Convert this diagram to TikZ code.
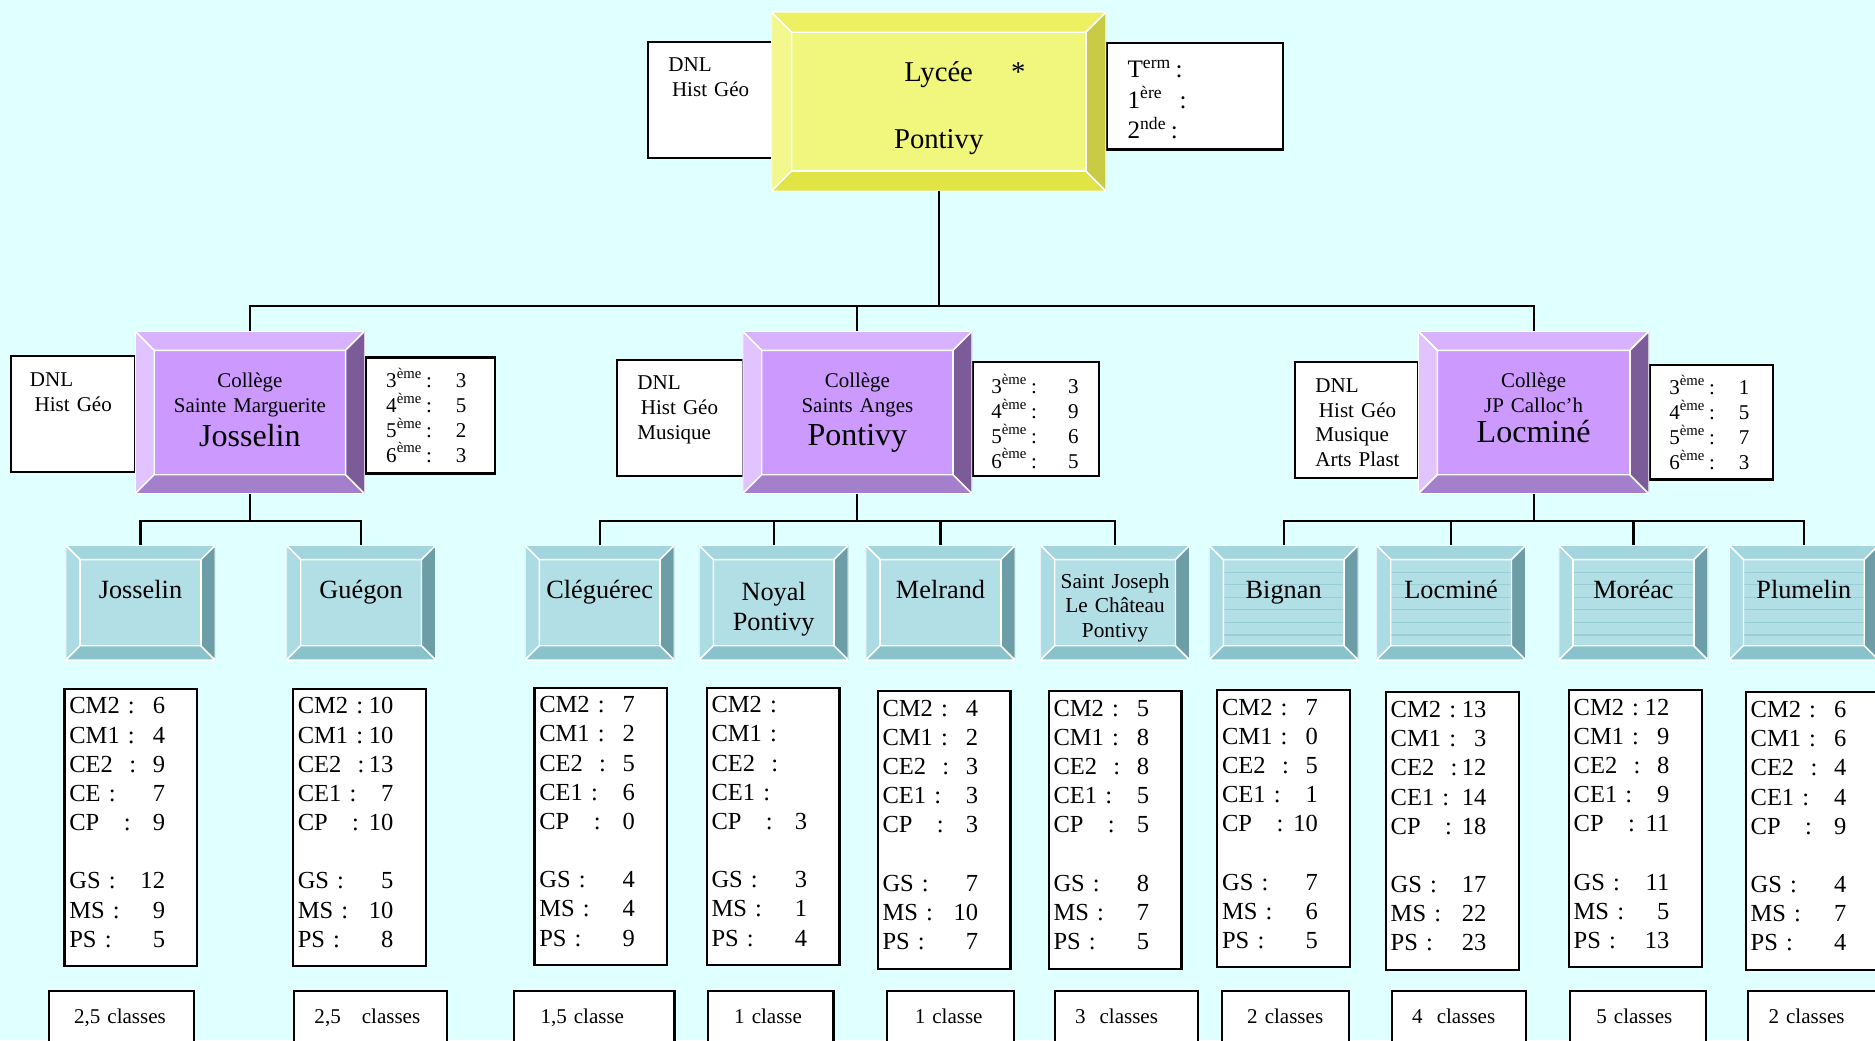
\documentclass[tikz,border=0pt]{standalone}
\usepackage{fontspec}
\setmainfont{Liberation Serif}
\usetikzlibrary{calc}
\definecolor{bgc}{HTML}{E0FFFF}
\definecolor{lyF}{HTML}{F0F77C}
\definecolor{lyT}{HTML}{EDF061}
\definecolor{lyL}{HTML}{F4F68E}
\definecolor{lyB}{HTML}{E0E445}
\definecolor{lyR}{HTML}{C9CB45}
\definecolor{coF}{HTML}{CC99FF}
\definecolor{coT}{HTML}{D8B1FF}
\definecolor{coL}{HTML}{E1C4FF}
\definecolor{coB}{HTML}{A47FCC}
\definecolor{coR}{HTML}{7B5C99}
\definecolor{scF}{HTML}{B2DFE6}
\definecolor{scT}{HTML}{A3D5DE}
\definecolor{scL}{HTML}{ABDBE3}
\definecolor{scB}{HTML}{89C2CB}
\definecolor{scR}{HTML}{6D9EA7}
\definecolor{scS}{HTML}{98CDD6}
\lineskiplimit=-100pt
\newcommand\DLn[2]{\makebox[40pt]{#1\hfill #2}}
\newcommand\RLn[3][33.5pt]{\makebox[#1]{#2\hfill #3}}
\newcommand\sx[1]{\textsuperscript{#1}}
\newcommand\fdata{\fontsize{10.25}{12.2}\selectfont}
\newcommand\fsmall{\fontsize{8.8}{10.4}\selectfont}
\newcommand\fterm{\fontsize{10.5}{12.75}\selectfont}
\newcommand\tbox[9][]{%
  \node[sidebox, minimum width={#5*0.5pt}, minimum height={#6*0.5pt}, anchor=north west] (#2) at (#3,#4) {};
  \node[boxtext, anchor=base west, #1] (#2t) at ($(#2.north west)+(#7,#8)$) {#9};}
\newcommand\databox[4]{\tbox[font=\fdata]{#1}{#2}{#3}{111}{232}{4}{21}{#4}}
\newcommand\classbox[5]{\tbox[font=\fsmall]{#1}{#2}{829}{#3}{60}{#4}{27}{#5}}
\begin{document}
\begin{tikzpicture}[x=0.5pt,y=-0.5pt,
  bevel/.style n args={7}{fill=#6, path picture={
    \path (path picture bounding box.north west) coordinate (bNW)
          (path picture bounding box.south east) coordinate (bSE);
    \path (bNW -| bSE) coordinate (bNE) (bNW |- bSE) coordinate (bSW);
    \foreach \k in {1,...,7}{\draw[#7,line width=0.5pt] ($(bNW)+(#1,#1+\k*10.5)$) -- ($(bNE)+(-#1,#1+\k*10.5)$);}
    \filldraw[fill=#2,draw=white,line width=0.6pt] (bNW) -- (bNE) -- ($(bNE)+(-#1,#1)$) -- ($(bNW)+(#1,#1)$) -- cycle;
    \filldraw[fill=#3,draw=white,line width=0.6pt] (bNW) -- ($(bNW)+(#1,#1)$) -- ($(bSW)+(#1,-#1)$) -- (bSW) -- cycle;
    \filldraw[fill=#4,draw=white,line width=0.6pt] (bSW) -- ($(bSW)+(#1,-#1)$) -- ($(bSE)+(-#1,-#1)$) -- (bSE) -- cycle;
    \filldraw[fill=#5,draw=white,line width=0.6pt] (bSE) -- ($(bSE)+(-#1,-#1)$) -- ($(bNE)+(-#1,#1)$) -- (bNE) -- cycle;
    \draw[white,line width=0.6pt] ($(bNW)+(#1,#1)$) rectangle ($(bSE)+(-#1,-#1)$);
  }},
  lycee/.style={bevel={17}{lyT}{lyL}{lyB}{lyR}{lyF}{lyF}, minimum width=140pt, minimum height=75pt,
    inner sep=0pt, outer sep=0pt, text width=130pt, align=center,
    font=\fontsize{12}{28}\selectfont, text height=14pt, text depth=30.6pt},
  college/.style={bevel={16}{coT}{coL}{coB}{coR}{coF}{coF}, minimum width=96pt, minimum height=68pt,
    inner sep=0pt, outer sep=0pt, text width=92pt, align=center,
    font=\fontsize{8.75}{10.5}\selectfont, text height=6pt, text depth=27pt},
  school/.style={bevel={12}{scT}{scL}{scB}{scR}{scF}{scF}, minimum width=62.5pt, minimum height=48pt,
    inner sep=0pt, outer sep=0pt, text width=60pt, align=center,
    font=\fontsize{11}{12.5}\selectfont, text height=0pt, text depth=3.6pt},
  striped/.style={bevel={12}{scT}{scL}{scB}{scR}{scF}{scS}},
  sidebox/.style={draw=black, fill=white, line width=0.9pt, inner sep=0pt, outer sep=0pt},
  boxtext/.style={inner sep=0pt, outer sep=0pt, align=left, text width=80pt},
  conn/.style={draw=black, line width=0.9pt}
]
\useasboundingbox (0,0) rectangle (1568,870);
\clip (0,0) rectangle (1568,870);
\fill[bgc] (0,0) rectangle (1568,870);

% side boxes of the lycee
\tbox[font=\fsmall]{dnl0}{542}{35}{105}{97}{17}{25}{DNL\\\hspace*{1.5pt}Hist Géo}
\tbox[font=\fterm]{cnt0}{926}{36}{147}{89}{17}{29}{T\sx{erm}\,:\\1\sx{ère}\ \ :\\2\sx{nde}\,:}
% side boxes of the colleges
\tbox[font=\fsmall]{dnl1}{9}{298}{104}{97}{16}{25}{DNL\\\hspace*{2pt}Hist Géo}
\tbox[font=\fsmall]{cnt1}{306}{299}{108}{97}{17}{25}{\RLn{3\sx{ème}\,:}{3}\\\RLn{4\sx{ème}\,:}{5}\\\RLn{5\sx{ème}\,:}{2}\\\RLn{6\sx{ème}\,:}{3}}
\tbox[font=\fsmall]{dnl2}{516}{301}{105}{97}{17}{25}{DNL\\\hspace*{1.5pt}Hist Géo\\Musique}
\tbox[font=\fsmall]{cnt2}{814}{303}{105}{95}{15}{26}{\RLn[36.5pt]{3\sx{ème}\,:}{3}\\\RLn[36.5pt]{4\sx{ème}\,:}{9}\\\RLn[36.5pt]{5\sx{ème}\,:}{6}\\\RLn[36.5pt]{6\sx{ème}\,:}{5}}
\tbox[font=\fsmall]{dnl3}{1083}{303}{103}{97}{17}{25}{DNL\\\hspace*{1.5pt}Hist Géo\\Musique\\Arts Plast}
\tbox[font=\fsmall]{cnt3}{1380}{305}{103}{96}{16}{25}{\RLn{3\sx{ème}\,:}{1}\\\RLn{4\sx{ème}\,:}{5}\\\RLn{5\sx{ème}\,:}{7}\\\RLn{6\sx{ème}\,:}{3}}

% bevelled boxes
\node[lycee] (lycee) at (785,85) {Lycée\rlap{\hspace{16pt}*}\\Pontivy};
\node[college] (col1) at (209,345) {Collège\\Sainte Marguerite\\[2pt]{\fontsize{13.4}{15}\selectfont Josselin}};
\node[college] (col2) at (717,345) {Collège\\Saints Anges\\[2pt]{\fontsize{13.4}{15}\selectfont Pontivy}};
\node[college, minimum width=96.5pt] (col3) at (1282.5,345) {Collège\\JP Calloc’h\\[2pt]{\fontsize{13.4}{15}\selectfont Locminé}};

\node[school] (s1) at (117.5,504) {Josselin};
\node[school] (s2) at (302,504) {Guégon};
\node[school] (s3) at (501.5,504) {Cléguérec};
\node[school, text height=11pt, text depth=12.6pt] (s4) at (647,504) {Noyal\\Pontivy};
\node[school] (s5) at (786.5,504) {Melrand};
\node[school, font=\fontsize{8.9}{10.25}\selectfont, text height=8.5pt, text depth=20.5pt] (s6) at (932.5,504) {Saint Joseph\\Le Château\\Pontivy};
\node[school, striped] (s7) at (1073.5,504) {Bignan};
\node[school, striped] (s8) at (1213.5,504) {Locminé};
\node[school, striped] (s9) at (1366,504) {Moréac};
\node[school, striped] (s10) at (1508.5,504) {Plumelin};

% pupil counts
\databox{d1}{54}{576}{\DLn{CM2 :}{6}\\\DLn{CM1 :}{4}\\\DLn{CE2\ \ :}{9}\\\DLn{CE :}{7}\\\DLn{CP\ \ \ :}{9}\\\mbox{}\\\DLn{GS :}{12}\\\DLn{MS :}{9}\\\DLn{PS :}{5}}
\databox{d2}{245}{576}{\DLn{CM2 :}{10}\\\DLn{CM1 :}{10}\\\DLn{CE2\ \ :}{13}\\\DLn{CE1 :}{7}\\\DLn{CP\ \ \ :}{10}\\\mbox{}\\\DLn{GS :}{5}\\\DLn{MS :}{10}\\\DLn{PS :}{8}}
\databox{d3}{447}{575}{\DLn{CM2 :}{7}\\\DLn{CM1 :}{2}\\\DLn{CE2\ \ :}{5}\\\DLn{CE1 :}{6}\\\DLn{CP\ \ \ :}{0}\\\mbox{}\\\DLn{GS :}{4}\\\DLn{MS :}{4}\\\DLn{PS :}{9}}
\databox{d4}{591}{575}{\DLn{CM2 :}{}\\\DLn{CM1 :}{}\\\DLn{CE2\ \ :}{}\\\DLn{CE1 :}{}\\\DLn{CP\ \ \ :}{3}\\\mbox{}\\\DLn{GS :}{3}\\\DLn{MS :}{1}\\\DLn{PS :}{4}}
\databox{d5}{734}{578}{\DLn{CM2 :}{4}\\\DLn{CM1 :}{2}\\\DLn{CE2\ \ :}{3}\\\DLn{CE1 :}{3}\\\DLn{CP\ \ \ :}{3}\\\mbox{}\\\DLn{GS :}{7}\\\DLn{MS :}{10}\\\DLn{PS :}{7}}
\databox{d6}{877}{578}{\DLn{CM2 :}{5}\\\DLn{CM1 :}{8}\\\DLn{CE2\ \ :}{8}\\\DLn{CE1 :}{5}\\\DLn{CP\ \ \ :}{5}\\\mbox{}\\\DLn{GS :}{8}\\\DLn{MS :}{7}\\\DLn{PS :}{5}}
\databox{d7}{1018}{577}{\DLn{CM2 :}{7}\\\DLn{CM1 :}{0}\\\DLn{CE2\ \ :}{5}\\\DLn{CE1 :}{1}\\\DLn{CP\ \ \ :}{10}\\\mbox{}\\\DLn{GS :}{7}\\\DLn{MS :}{6}\\\DLn{PS :}{5}}
\databox{d8}{1159}{579}{\DLn{CM2 :}{13}\\\DLn{CM1 :}{3}\\\DLn{CE2\ \ :}{12}\\\DLn{CE1 :}{14}\\\DLn{CP\ \ \ :}{18}\\\mbox{}\\\DLn{GS :}{17}\\\DLn{MS :}{22}\\\DLn{PS :}{23}}
\databox{d9}{1312}{577}{\DLn{CM2 :}{12}\\\DLn{CM1 :}{9}\\\DLn{CE2\ \ :}{8}\\\DLn{CE1 :}{9}\\\DLn{CP\ \ \ :}{11}\\\mbox{}\\\DLn{GS :}{11}\\\DLn{MS :}{5}\\\DLn{PS :}{13}}
\databox{d10}{1460}{579}{\DLn{CM2 :}{6}\\\DLn{CM1 :}{6}\\\DLn{CE2\ \ :}{4}\\\DLn{CE1 :}{4}\\\DLn{CP\ \ \ :}{9}\\\mbox{}\\\DLn{GS :}{4}\\\DLn{MS :}{7}\\\DLn{PS :}{4}}

% number of classes
\classbox{c1}{41}{121}{21}{2,5 classes}
\classbox{c2}{246}{128}{17}{2,5\ \ \ classes}
\classbox{c3}{430}{134}{22}{1,5 classe}
\classbox{c4}{592}{105}{22}{1 classe}
\classbox{c5}{742}{106}{23}{1 classe}
\classbox{c6}{882}{120}{17}{3\ \ classes}
\classbox{c7}{1022}{106}{21}{2 classes}
\classbox{c8}{1164}{112}{17}{4\ \ classes}
\classbox{c9}{1313}{114}{22}{5 classes}
\classbox{c10}{1462}{130}{17}{2 classes}

% connectors
\coordinate (bus0) at (785,256);
\draw[conn] (lycee.south) -- (bus0);
\draw[conn] (col1.north) |- (bus0);
\draw[conn] (col3.north) |- (bus0);
\draw[conn] (col2.north) -- (col2.north |- bus0);

\coordinate (bus1) at ($(col1.south)+(0,23)$);
\draw[conn] (col1.south) -- (bus1);
\draw[conn] (s1.north) |- (bus1);
\draw[conn] (s2.north) |- (bus1);

\coordinate (bus2) at ($(col2.south)+(0,23)$);
\draw[conn] (col2.south) -- (bus2);
\draw[conn] (s3.north) |- (bus2);
\draw[conn] (s6.north) |- (bus2);
\draw[conn] (s4.north) -- (s4.north |- bus2);
\draw[conn] (s5.north) -- (s5.north |- bus2);

\coordinate (bus3) at ($(col3.south)+(0,23)$);
\draw[conn] (col3.south) -- (bus3);
\draw[conn] (s7.north) |- (bus3);
\draw[conn] (s10.north) |- (bus3);
\draw[conn] (s8.north) -- (s8.north |- bus3);
\draw[conn] (s9.north) -- (s9.north |- bus3);
\end{tikzpicture}
\end{document}
